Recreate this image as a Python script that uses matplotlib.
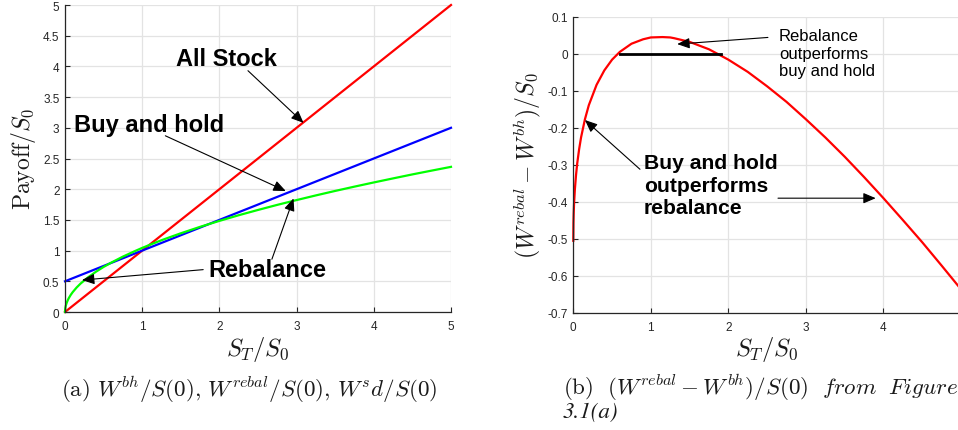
import matplotlib
matplotlib.use("Agg")
import matplotlib.pyplot as plt
from matplotlib.ticker import FixedLocator, FuncFormatter

plt.rcParams["mathtext.fontset"] = "cm"
plt.rcParams["font.family"] = ["Liberation Sans", "DejaVu Sans"]

# ---- data -------------------------------------------------------------
# terminal stock price ratio S_T / S_0
all_stock_x = [0.0, 5.0]
all_stock_y = [0.0, 5.0]

buy_hold_x = [0.0, 5.0]
buy_hold_y = [0.5, 3.0]

rebal_x = [0.0, 0.002, 0.005, 0.01, 0.02, 0.035, 0.05, 0.075, 0.1, 0.15, 0.2,
           0.3, 0.4, 0.5, 0.6, 0.75, 0.9, 1.0, 1.15, 1.25, 1.3, 1.5, 1.75,
           2.0, 2.25, 2.5, 2.75, 3.0, 3.25, 3.5, 3.75, 4.0, 4.25, 4.5, 4.75,
           5.0]
rebal_y = [0.0, 0.044, 0.071, 0.101, 0.143, 0.190, 0.228, 0.280, 0.324,
           0.398, 0.461, 0.566, 0.655, 0.734, 0.805, 0.902, 0.989, 1.044,
           1.120, 1.169, 1.192, 1.282, 1.387, 1.484, 1.576, 1.662, 1.745,
           1.823, 1.899, 1.972, 2.042, 2.110, 2.176, 2.241, 2.303, 2.364]

# rebalance minus buy-and-hold
diff_y = [-0.505, -0.457, -0.432, -0.404, -0.367, -0.328, -0.297, -0.258,
          -0.226, -0.177, -0.139, -0.084, -0.045, -0.016, 0.005, 0.027,
          0.039, 0.044, 0.045, 0.044, 0.042, 0.032, 0.012, -0.016, -0.049,
          -0.088, -0.130, -0.177, -0.226, -0.278, -0.333, -0.390, -0.449,
          -0.509, -0.572, -0.636]

# range where rebalance beats buy-and-hold
outperform_x = [0.6, 1.9]
outperform_y = [0.0, 0.0]

x_ticks = [0, 1, 2, 3, 4, 5]
left_y_ticks = [0, 0.5, 1, 1.5, 2, 2.5, 3, 3.5, 4, 4.5, 5]
right_y_ticks = [-0.7, -0.6, -0.5, -0.4, -0.3, -0.2, -0.1, 0, 0.1]

# ---- figure -----------------------------------------------------------
W, H = 958, 431
fig = plt.figure(figsize=(W / 100, H / 100), dpi=100)


def px_axes(left, top, right, bottom):
    return fig.add_axes([left / W, 1 - bottom / H, (right - left) / W,
                         (bottom - top) / H])


ax1 = px_axes(65, 6, 451, 313)
ax2 = px_axes(573.3, 17.7, 961, 314)

dark = "#262626"
fmt = FuncFormatter(lambda v, p: ("%g" % round(v, 3)).replace("\u2212", "-"))

for ax in (ax1, ax2):
    for s in ("top", "right"):
        ax.spines[s].set_visible(False)
    for s in ("left", "bottom"):
        ax.spines[s].set_color(dark)
        ax.spines[s].set_linewidth(0.9)
    ax.grid(True, color="#e3e3e3", linewidth=0.9)
    ax.set_axisbelow(True)
    ax.tick_params(direction="in", length=3.5, width=0.8, color=dark,
                   labelcolor=dark, labelsize=8.5, pad=4)
    ax.tick_params(axis="x", pad=5.5)
    ax.xaxis.set_major_locator(FixedLocator(x_ticks))
    ax.xaxis.set_major_formatter(fmt)
    ax.yaxis.set_major_formatter(fmt)
    ax.set_xlim(0, 5)

ax1.set_ylim(0, 5)
ax1.yaxis.set_major_locator(FixedLocator(left_y_ticks))
ax2.set_ylim(-0.7, 0.1)
ax2.yaxis.set_major_locator(FixedLocator(right_y_ticks))

# left panel curves
ax1.plot(all_stock_x, all_stock_y, color="#ff0000", lw=1.6, clip_on=False)
ax1.plot(buy_hold_x, buy_hold_y, color="#0000ff", lw=1.6, clip_on=False)
ax1.plot(rebal_x, rebal_y, color="#00ff00", lw=1.6, clip_on=False)

# right panel curves
ax2.plot(rebal_x, diff_y, color="#ff0000", lw=1.6, clip_on=False)
ax2.plot(outperform_x, outperform_y, color="black", lw=2.0)

arrow = dict(arrowstyle="-|>,head_length=0.75,head_width=0.32",
             color="black", lw=0.8, shrinkA=0, shrinkB=0, mutation_scale=10)


def pointer(ax, start, tip):
    ax.annotate("", xy=tip, xytext=start, arrowprops=arrow,
                annotation_clip=False)


bold_big = dict(fontsize=17, fontweight="bold", color="black")
ax1.text(2.09, 4.13, "All Stock", ha="center", va="center", **bold_big)
pointer(ax1, (2.37, 3.93), (3.09, 3.08))
ax1.text(0.12, 3.06, "Buy and hold", ha="left", va="center", **bold_big)
pointer(ax1, (1.30, 2.87), (2.86, 1.97))
ax1.text(1.86, 0.69, "Rebalance", ha="left", va="center", **bold_big)
pointer(ax1, (1.79, 0.69), (0.22, 0.52))
pointer(ax1, (2.68, 0.86), (2.96, 1.85))

ax2.text(2.65, 0.001, "Rebalance\noutperforms\nbuy and hold", ha="left",
         va="center", fontsize=12, color="black", linespacing=1.2)
pointer(ax2, (2.51, 0.044), (1.34, 0.026))
ax2.text(0.91, -0.355, "Buy and hold\noutperforms\nrebalance", ha="left",
         va="center", fontsize=15.2, fontweight="bold", color="black",
         linespacing=1.24)
pointer(ax2, (0.86, -0.312), (0.15, -0.179))
pointer(ax2, (2.64, -0.39), (3.90, -0.39))


# axis labels and captions placed in pixel coordinates
def ptext(x, y, s, size, ha="center", va="center", **kw):
    fig.text(x / W, 1 - y / H, s, fontsize=size, ha=ha, va=va,
             color="#1a1a1a", **kw)


ptext(257.7, 350, r"$S_T/S_0$", 17.6)
ptext(766.7, 350, r"$S_T/S_0$", 17.6)
ptext(23, 159, r"$\mathrm{Payoff}/S_0$", 17, rotation=90)
ptext(527, 166, r"$(W^{rebal}-W^{bh})/S_0$", 17, rotation=90)

ptext(249, 390,
      r"$\mathrm{(a)}\ W^{bh}/S(0),\, W^{rebal}/S(0),\, W^{s}d/S(0)$", 16.6)
ptext(562.7, 388,
      r"$\mathrm{(b)}\ \ (W^{rebal}-W^{bh})/S(0)\ \ \mathit{from}\ \ \mathit{Figure}$",
      16.6, ha="left")
ptext(562.7, 412, "3.1(a)", 16.6, ha="left", family="STIXGeneral",
      style="italic")

fig.savefig("out.png", dpi=100)
